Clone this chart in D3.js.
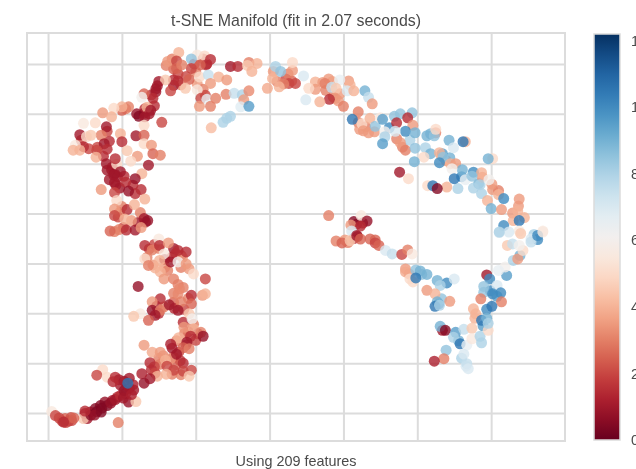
<!DOCTYPE html>
<html><head><meta charset="utf-8">
<style>html,body{margin:0;padding:0;background:#fff;overflow:hidden}svg{display:block;filter:blur(0.55px)}text{font-family:"Liberation Sans",Arial,sans-serif;fill:#4a4a4a}</style>
<script src="https://cdn.jsdelivr.net/npm/d3@7"></script></head><body>
<script>
const titleText="t-SNE Manifold (fit in 2.07 seconds)";
const captionText="Using 209 features";
const gridX=[-30,-20,-10,0,10,20,30];
const gridY=[-30,-20,-10,0,10,20,30,40];
const colorTicks=[0,2,4,6,8,10,12];
// each entry: [tsne1, tsne2, target]
const upperArc=[[-12.3,42.3,4],[-9.8,41.8,5.5],[-8.8,41.6,5],[-13.8,40.5,3.5],[-12.6,40.6,2],[-10.6,41,8.5],[-12.6,39.1,2.5],[-8,40.9,1.5],[-8.6,39.8,1.5],[-9.4,39.8,2.5],[-10.6,39.1,2],[-11.9,39.8,3],[-5.3,39.5,1],[-4.3,39.5,1.5],[-2.8,40.3,3],[-1.7,40.1,4],[-3,39.7,4.5],[-2.4,38.5,4],[-13,36.8,1.5],[-12.4,36.6,1.5],[-10.9,36.9,2.5],[-9.5,37.4,5],[-8.3,37.8,7.5],[-6.9,37.4,4],[-5.8,36.8,3.5],[-8,36.1,3.5],[-9.8,34.8,5.5],[-11.4,35.1,4.5],[-13.4,34.6,2],[-14.1,36.8,4.5],[-15.2,35.6,1],[-15.4,34.4,1],[-15.8,33.1,1.5],[-17,34,2.5],[-17.3,33.3,6],[-9.3,33.1,2],[-8.5,32.9,6.5],[-7.3,33.1,3],[-5.9,33.9,3],[-9.5,31.5,3.5],[-8,31.5,3],[-4.8,34.1,7.5],[-3.7,33.8,8],[-2.8,34.6,3.2],[-3.5,32.8,3.5],[-3.9,31.4,6.8],[-2.8,31.5,9.5],[-5.3,29.5,8],[-5.8,29.1,8],[-6.3,28.3,8],[-7.9,27.2,4.2],[0.8,39.5,8],[1.5,38.5,8.5],[0.4,37.1,4],[-0.3,35.1,3.8],[3.1,38.7,3.5],[3.1,40.3,5],[2.6,36.1,2],[1.9,36,3],[3.5,36.1,2],[1.3,35.4,4],[4.6,37.6,7],[6.2,36.4,4],[6.2,34.9,3.5],[4.9,32.8,7],[5.3,35.1,5]];
const leftBand=[[-16.6,31.3,4],[-16.1,30.7,1],[-17.7,29.5,0.5],[-16.9,29.4,1],[-19.1,31.4,3],[-20,31.4,4],[-21.1,31.1,5],[-22.6,30.2,3.5],[-21.4,29.4,4],[-14.6,28.3,2],[-17,27.7,5],[-23.6,28.2,5],[-25.2,28.1,5.5],[-22.1,27.4,1],[-25.7,25.8,1],[-24.8,25.4,5],[-22.8,25.7,3],[-24.2,25.7,4.5],[-20.2,26,4],[-20,24.4,1.5],[-18.1,25.6,1],[-17,25.7,2.5],[-22.4,24,1],[-22,22.9,1.5],[-23.4,22.7,2],[-25.2,23.4,1.5],[-26.3,23.7,5.5],[-26.6,22.7,4],[-25.7,22.7,4],[-19.3,22.6,4.5],[-17,24,5],[-16,23.7,3.5],[-15.8,22,2.5],[-14.8,21.7,3],[-17.9,21.5,3.5],[-23.5,21.3,4],[-18.8,20.5,5],[-16.4,19.7,1],[-22.1,20,1],[-22,18.7,1],[-20.7,19.9,5],[-20.9,21,1.5],[-20.2,18.4,1],[-21.1,17.7,1],[-21,16.2,1],[-17.3,18,4],[-18.2,17,0.8],[-19.5,16.3,1.5],[-22.8,14.8,3.5],[-21,14.2,2],[-19.1,14.5,0.8],[-17.4,14.8,1.5],[-16.9,12.9,4],[-20.7,12.6,5],[-19.3,10.8,1.5],[-21,10.9,3.5],[-18.3,11.8,4],[-21,9.6,2],[-17,9,1],[-16.5,8.6,0.8],[-18.7,8.6,3.5],[-19.6,8.9,4],[-19.4,6.7,1.5],[-21,6.4,3],[-18.2,6.7,1],[-17.4,7.2,3.5],[-21.6,6.5,2.5]];
const lowerBand=[[-15,4.9,5.5],[-16.9,3.6,1.5],[-15.9,2.7,3],[-14.9,3.6,1.5],[-13.7,4.1,3.5],[-12.4,2.6,1.5],[-11.3,2.3,1.5],[-14.3,1.9,5.5],[-16.9,0.9,5],[-16.4,-0.4,3],[-14.9,0.6,4],[-13.4,0.3,1],[-12.4,0.3,6],[-11.3,-0.1,3.5],[-10.9,-1.1,3.5],[-14.8,-1.7,4],[-14.3,-3.1,3.5],[-13,-3.1,3],[-10.3,-2.1,5],[-8.7,-3.1,2],[-17.8,-4.6,0.8],[-12.2,-5.1,3.2],[-12.4,-6.1,3.2],[-10.6,-6.4,1.5],[-9.1,-6.4,3.5],[-8.7,-6.1,4],[-14.8,-7.1,1.5],[-15.9,-7.7,3.5],[-13.6,-8.3,1],[-12,-7.7,3],[-10.6,-8.1,2.5],[-15.9,-9.4,0.8],[-14.8,-9.4,3],[-12.4,-9.4,1],[-10.9,-10.1,4.5],[-15.5,-10.4,1],[-17.5,-10.1,5.5],[-18.4,-10.6,4.5],[-16.4,-11.4,2.5],[-11.7,-11.8,1.5],[-10.5,-11.1,6],[-11.6,-12.8,3.5],[-10.3,-13.1,4],[-9.3,-13.8,3],[-9,-14.6,0.8],[-10.7,-14.6,1.5],[-12.3,-14.9,4],[-11.2,-15.8,1],[-17,-16.4,3.5],[-13.4,-16.2,1.2],[-11.7,-16.9,2.5],[-10.9,-17.1,3],[-15.9,-17.8,3.8],[-14.8,-17.8,3.5],[-13.4,-19.1,3.5],[-12.6,-18.2,1],[-14.1,-19.4,4],[-16.2,-19.9,1.5],[-13.9,-20.6,2],[-11.7,-20,1.5],[-10.6,-21.4,2],[-11.7,-21.6,2],[-13,-21.4,2],[-10.9,-22.6,4.5],[-14,-22.2,4],[-15.2,-22.6,4],[-16.2,-23.1,1],[-17.3,-22.1,1.2],[-17,-24,0.8]];
const tail=[[-22.6,-21.3,5],[-23.4,-22.4,2],[-22,-22.8,5],[-20.9,-22.8,1.5],[-19.7,-23.6,0.8],[-18.4,-25.4,1],[-20.2,-24.4,1],[-19.5,-26.1,1],[-19.1,-27.8,0.8],[-18.1,-27.7,4.5],[-20.6,-26.8,1.5],[-21.3,-27.5,1],[-22.3,-27.8,0.8],[-22.9,-28.5,0.5],[-23.6,-29.1,0.5],[-24.3,-29.8,0.8],[-25,-30.1,1],[-24.7,-31.1,1],[-25.2,-31.1,4.5],[-29.5,-29.7,5.5],[-29,-30.5,2],[-28.1,-31.6,2],[-27.2,-31.6,1.5],[-27.7,-31.1,2.5],[-26.8,-31.5,2],[-20.5,-31.9,3]];
const rightArc=[[8,37,3.5],[9.5,36.8,6.5],[7.5,36.1,3],[8.4,35.3,7.5],[9,35.1,4.5],[10.9,35.8,4],[10.5,34.6,7],[11.4,34.6,4],[8.9,33.1,3.5],[8.1,32.9,1.5],[6.8,32.4,4],[12.9,34.6,9],[13.4,33.3,7.5],[13.9,32,3.5],[10,31.5,3],[12,30.4,3],[12.5,28,5],[11.2,28.9,10.5],[13.6,29.1,4],[12.7,26.6,3.5],[13.4,26.2,3.5],[14.3,27.5,8.5],[15,29.2,5.5],[15.3,28.9,9.5],[16.2,27.2,10],[16.9,29.5,8.5],[17.7,30,8.5],[17.2,28.2,1.5],[19.3,30.2,8.5],[18.7,29.2,1.5],[19.4,27.7,3.5],[18.4,26.5,10],[19.7,26.2,9],[17,26.5,7],[15.6,26.4,6],[15.6,25.4,8],[15.3,24,9.5],[17.7,24.2,3.5],[18.4,22.7,3],[19.7,23.1,8.5],[21.8,26,9],[22.3,25.6,8.5],[22.5,26.9,5],[24.3,24.7,9],[24.9,23.2,7],[26.5,24.4,4],[26.2,24.4,10.5],[21.1,23.2,8],[21.8,22,9],[20.9,21.3,5],[19.6,20.4,9],[23,22.2,4],[23.5,21.3,8.5],[23,20.2,10],[24.5,20,4],[25.2,20,3.5],[26.1,18.8,9],[24.7,19,6],[27.6,18.3,10],[28.7,18.2,4],[30.2,21,5],[29.6,21,9],[17.6,18.3,1],[18.8,17,5],[21.4,15.6,5],[22.1,15.6,10.5],[24,15.3,4],[22.7,15,0.5],[25.5,15,8],[25,17,10.5],[26.5,16.8,6.5],[27.4,17.5,8.5],[27.6,15.1,8],[28.5,15.8,8],[28.7,14,8],[30.1,15.9,3.5],[29.7,16.8,6],[29.5,12.6,4],[31,13.8,4],[31.7,13,10],[30,11,9],[31.4,10.8,3.5],[33.8,12.9,3.5],[33.6,10.5,4],[34.5,9.2,4],[33,8.6,4],[33.8,8.6,10.5],[31.7,7.6,10],[31.1,6.2,7],[33.8,6.5,5.5],[35.8,5.8,8],[36.3,4.8,10],[37,6.5,5.5],[35.4,4.9,7]];
const centerBranch=[[8,9.6,3],[11.4,8.4,0.5],[12.4,9.6,5.5],[13.2,8.5,0.8],[11,7.7,3.5],[12.3,7.5,1.5],[11.1,6.5,7],[11.9,5.4,1],[14.3,4.7,2.5],[10.2,4.7,3.5],[9,4.5,3],[9.8,4.1,2.5],[10.9,4.6,4.5],[11.8,5.6,1],[12.3,4.9,2.5],[14.3,4.1,2],[14.8,3.6,2.5],[15.7,2.6,7],[16.6,1.9,7.5],[17.9,1.8,2],[18.7,2.7,3],[19.3,1.9,5.5],[18.4,-1.1,3.5],[18.4,-1.7,3.8],[19.8,-1.3,8.5],[20.4,-1.5,9],[21.3,-2.2,9],[19,-3.1,5],[19.4,-3.7,5],[19.8,-2.9,10.5],[22.7,-3.4,9],[24,-3.9,10],[23.1,-4.4,8],[25,-3.1,7],[21.3,-5.4,3.5],[22.4,-6.1,4],[22.7,-7.7,9],[22.4,-8.6,10.5],[23,-8.4,8],[24.4,-7.6,3.5]];
const lowerRight=[[23.1,-12.6,9],[23.8,-13.4,0.5],[25.2,-13.8,9.5],[26.3,-13.2,7.5],[27.4,-13,4.5],[24.9,-14.8,8],[25.8,-16.1,10.5],[26.7,-16.4,6.5],[27.4,-15.1,5.5],[28.5,-14.6,8],[28.7,-15.9,8],[23.9,-17.4,8.5],[23.6,-19.1,3],[22.3,-19.6,1.2],[26.3,-18.2,7],[26.7,-20.1,7.5],[26.9,-21.1,7],[29.4,-2.3,1],[29.8,-3.1,10],[29,-4.6,8.5],[30.8,-4.4,7],[30.2,-6.1,10],[31.3,-5.9,10],[28.6,-7.1,3],[31.4,-7.7,3],[30.1,-8.6,10.5],[27.6,-9.1,4],[27.9,-10.1,4],[28.7,-11.4,10.5],[29.4,-11,9],[29.6,-13.4,5],[29.6,-12,8],[32.1,-2.4,9.5],[31.9,-0.7,6],[31,-1.4,6.5],[33,0.6,8],[33.9,1.6,9],[33.6,0.9,3.5],[34.3,2.6,5],[32.2,3.6,4.5],[32.9,3.9,7.5],[33.8,3.6,6],[35.4,4.3,7.5],[36.3,5.6,10],[37,6.3,5.5],[34,6,4.5],[32.4,6.3,7],[31.1,6.3,8]];
const denseTail=[[-24.2,-30.4,0.5],[-23.4,-29.7,0.3],[-22.7,-29,0.4],[-22,-28.5,0.5],[-21.5,-28,0.8],[-20.9,-27.3,1],[-20.2,-26.5,1.5],[-19.7,-25.5,0.8],[-19,-25,1],[-19.8,-27,1],[-18.7,-26.3,1.2],[-19,-23,1],[-20.4,-23.3,1.2],[-21.2,-23.7,1.5],[-18.5,-24.3,1.2],[-23.7,-30.4,0.8],[-22.8,-29.8,0.5],[-25,-29.6,1.5],[-27.6,-31.9,2],[-26.9,-30.9,2.2],[-28.5,-31,2],[-27.9,-31.8,1.5],[-26.5,-31,2.5],[-19.2,-24,10.5]];
const denseBand=[[-15,-19,3],[-14.4,-18.5,3.2],[-13,-18.8,2],[-12.1,-19.5,1.5],[-12.7,-20.3,2.5],[-14.8,-20.2,3],[-15.6,-20.7,2],[-16,-21.3,1.5],[-13.2,-22.2,3],[-12.3,-17.8,2],[-11.3,-16.3,1.5],[-12.6,-15.5,3],[-13.2,-17,1],[-15.5,-22,2],[-12,-22.3,3],[-15.3,-8.6,1.2],[-14.3,-8.7,3],[-13,-7.8,2.5],[-12.9,-9,1.5],[-11.6,-9.2,2],[-12.4,-4.2,3],[-11.7,-4.8,3],[-13,-6,3],[-11,-7,3],[-15,-10,1.5],[-10.3,-12.2,3],[-11,-13.7,2],[-9.7,-14.1,1],[-10,-15.4,2],[-11.5,-14,3],[-16.3,2.9,2],[-15.6,3.8,2],[-15,3,3],[-16.6,1.2,3],[-15.8,-0.3,3.5],[-14.2,0.8,1],[-13.2,1.3,1.5],[-12,1.6,2],[-13,3,1],[-12.7,2,1.5],[-14.2,-0.8,3.5],[-13.8,-1.4,3],[-12,-0.8,3],[-11.8,1.2,3.5],[-15.5,-0.9,4]];
const denseLeft=[[-21.4,18.8,1],[-20.6,17.4,1],[-20.8,15.7,1.2],[-20.3,15.1,1],[-19.7,17.5,1.5],[-21.3,19.3,1.2],[-21.7,16.8,1],[-21,18,0.8],[-18.5,15.7,1.5],[-18.2,14,1.5],[-17.8,8.2,1],[-16.8,8.3,1],[-19.8,7.2,2],[-20.4,6.8,3],[-20.5,9.3,2],[-17.5,10.2,3],[-20,11.4,3],[-20.3,10.2,3],[-22.5,21.5,1.5],[-23.3,23.3,2],[-21.7,24.5,1.5],[-22,26.5,2],[-25.5,24.7,2],[-24.5,23,2]];
const denseTop=[[-16.9,31,1.5],[-16.3,30,1],[-17,30.1,1],[-18,30,0.8],[-15.6,31.6,1.5],[-15,36.5,1],[-15.4,35,1],[-16,33.8,1.5],[-19.5,31,3],[-20,30.7,2.5],[-13,39,2.5],[-12.4,38,2],[-11.3,37.5,2],[-12,35.8,3],[-13,35.7,1],[-10,38.4,3],[-9,41,2],[-8.5,40,1.5],[-10.2,40,2],[-13.2,41,3],[-14,39.7,3],[-9.8,36,3.5],[-9,34.9,3],[-8.7,33.7,2],[2.2,37,2],[3,36.6,2.5],[1,36.5,3],[0.5,38.5,3.5],[2.5,38,3]];
const denseRight=[[7.2,36.3,3.5],[8.5,36.5,4],[9.5,34,3.5],[8.6,33.4,3],[9.3,32.6,3.5],[10.7,36.6,3.5],[7.6,34.7,3],[12,28.3,3],[13,27.4,3],[12.2,26.9,3.5],[14.2,26.4,3.5],[17.2,25,3],[18,23.3,3],[19,24.7,8],[21.3,25.6,9],[22.5,26.2,3],[23.2,21.7,4],[23.9,20.6,3.5],[24.4,21.2,9],[23.4,22,9.5],[28.3,16,9],[28.8,17.3,3.5],[26,17.4,10],[30.2,14.8,3.5],[31,14.6,3],[33.7,11.5,3.5],[32.9,10.1,3.5],[11.8,7.9,0.8],[12.6,8.1,1],[11.4,5,1.5],[13.6,4.9,2.5],[10.6,4.2,3],[18.9,-2.1,3.5],[20.6,-2.2,8.5],[29.9,-5.5,10],[30.8,-6.6,9.5],[29,-5.8,8.5],[29.4,-9.2,10],[28.9,-12.5,9.5],[27.8,-11,4],[22.9,-8.1,10],[23.3,-7.1,8.5],[23.4,-13.4,1],[25.6,-15.5,9],[26,-19,8],[26.6,-20.6,7]];
const targetMax=12.2;

const W=636,H=469;
const plot={l:27,r:565,t:33,b:441};
const bar={l:594,r:620,t:34,b:440};
const gridColor="#dcdcdc";
const svg=d3.select("body").append("svg").attr("width",W).attr("height",H);
const x=d3.scaleLinear().domain([-32.85,40]).range([plot.l,plot.r]);
const y=d3.scaleLinear().domain([-35.6,46.2]).range([plot.b,plot.t]);
const color=d3.scaleSequential(d3.interpolateRdBu).domain([0,targetMax]);

svg.append("g").attr("transform",`translate(0,${plot.b})`)
  .call(d3.axisBottom(x).tickValues(gridX).tickSize(plot.t-plot.b).tickFormat(""))
  .call(g=>g.select(".domain").remove())
  .call(g=>g.selectAll("line").attr("stroke",gridColor).attr("stroke-width",2));
svg.append("g").attr("transform",`translate(${plot.l},0)`)
  .call(d3.axisLeft(y).tickValues(gridY).tickSize(plot.l-plot.r).tickFormat(""))
  .call(g=>g.select(".domain").remove())
  .call(g=>g.selectAll("line").attr("stroke",gridColor).attr("stroke-width",2));
svg.append("rect").attr("x",plot.l).attr("y",plot.t).attr("width",plot.r-plot.l).attr("height",plot.b-plot.t)
  .attr("fill","none").attr("stroke",gridColor).attr("stroke-width",2);

const points=[...denseTop,...upperArc,...denseLeft,...leftBand,...denseBand,...lowerBand,...denseRight,...rightArc,...centerBranch,...lowerRight,...tail,...denseTail];
svg.append("g").selectAll("circle").data(points).join("circle")
  .attr("cx",d=>x(d[0])).attr("cy",d=>y(d[1])).attr("r",5.5)
  .attr("fill",d=>color(d[2])).attr("fill-opacity",0.8);

svg.append("text").attr("x",296).attr("y",26).attr("text-anchor","middle").attr("font-size",15.9).text(titleText);
svg.append("text").attr("x",296).attr("y",466).attr("text-anchor","middle").attr("font-size",14.4).text(captionText);

const defs=svg.append("defs");
const grad=defs.append("linearGradient").attr("id","cbar").attr("x1",0).attr("x2",0).attr("y1",1).attr("y2",0);
d3.range(0,1.0001,0.05).forEach(t=>grad.append("stop").attr("offset",t).attr("stop-color",d3.interpolateRdBu(t)));
svg.append("rect").attr("x",bar.l).attr("y",bar.t).attr("width",bar.r-bar.l).attr("height",bar.b-bar.t)
  .attr("fill","url(#cbar)").attr("stroke",gridColor).attr("stroke-width",1.5);
const cy=d3.scaleLinear().domain([0,targetMax]).range([bar.b,bar.t]);
svg.append("g").attr("transform",`translate(${bar.r},0)`)
  .call(d3.axisRight(cy).tickValues(colorTicks).tickSize(0).tickPadding(11).tickFormat(d3.format("d")))
  .call(g=>g.select(".domain").remove())
  .call(g=>g.selectAll("text").attr("font-size",14.4).style("font-family",'"Liberation Sans",Arial,sans-serif').attr("fill","#4a4a4a"));
</script></body></html>
